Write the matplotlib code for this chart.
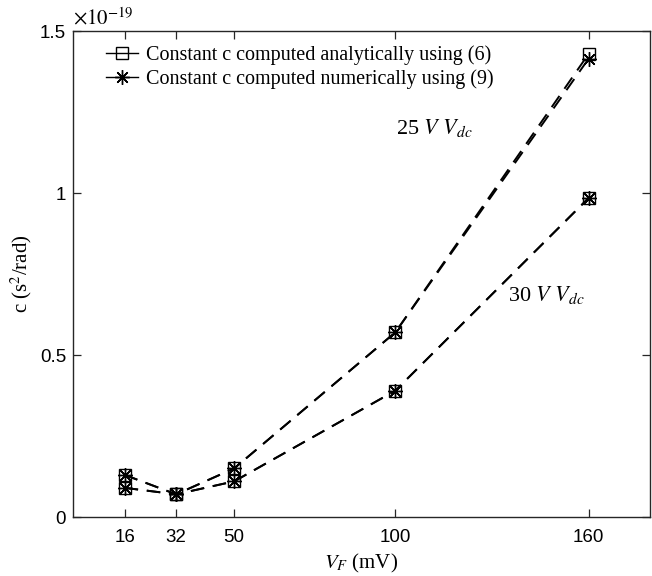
import numpy as np
import matplotlib.pyplot as plt

plt.rcParams['mathtext.fontset'] = 'stix'

# data (c in units of 1e-19 s^2/rad)
vf = [16, 32, 50, 100, 160]
c25_analytic = [0.13, 0.07, 0.15, 0.57, 1.43]
c25_numeric = [0.13, 0.07, 0.15, 0.57, 1.415]
c30_analytic = [0.09, 0.07, 0.11, 0.39, 0.985]
c30_numeric = [0.09, 0.07, 0.11, 0.39, 0.985]

yticks = [0, 0.5, 1, 1.5]
ytick_labels = ['0', '0.5', '1', '1.5']

serif = 'Liberation Serif'
sans = 'Liberation Sans'

fig = plt.figure(figsize=(6.52, 5.76), dpi=100)
ax = fig.add_axes([73 / 652, 1 - 517 / 576, (650 - 73) / 652, (517 - 31) / 576])

sq = dict(marker='s', ms=8, mfc='none', mec='black', mew=1.0)
star = dict(marker=(8, 2, 0), ms=10.5, mec='black', mew=1.0)
ls = dict(color='black', lw=1.4, linestyle=(0, (7, 4.5)))

ax.plot(vf, c25_analytic, **ls, **sq)
ax.plot(vf, c25_numeric, **ls, **star)
ax.plot(vf, c30_analytic, **ls, **sq)
ax.plot(vf, c30_numeric, **ls, **star)

# legend proxies (solid lines as in the original)
h1, = ax.plot([], [], color='black', lw=1.0, **sq)
h2, = ax.plot([], [], color='black', lw=1.0, **star)
ax.legend([h1, h2], ['Constant c computed analytically using (6)',
                     'Constant c computed numerically using (9)'],
          loc='upper left', frameon=False, prop={'family': serif, 'size': 14.5},
          handlelength=1.6, handletextpad=0.4, labelspacing=0.22,
          borderaxespad=0.3, bbox_to_anchor=(0.032, 1.0))

ax.text(112, 1.20, '25 $V$ $V_{dc}$', fontsize=16, family=serif, ha='center', va='center')
ax.text(147, 0.685, '30 $V$ $V_{dc}$', fontsize=16, family=serif, ha='center', va='center')

ax.set_xlim(0, 179)
ax.set_ylim(0, 1.5)
ax.set_xticks(vf)
ax.set_xticklabels([str(v) for v in vf], family=sans, fontsize=13.5)
ax.set_yticks(yticks)
ax.set_yticklabels(ytick_labels, family=sans, fontsize=13.5)
ax.tick_params(axis='x', pad=9)
ax.tick_params(direction='in', top=True, right=True, length=6, width=0.9,
               color='#262626')
ax.tick_params(axis='y', pad=5)
for s in ax.spines.values():
    s.set_color('#262626')
    s.set_linewidth(1.0)

ax.set_xlabel('$V_F$ (mV)', family=serif, fontsize=15, labelpad=4)
ax.set_ylabel('c (s$^2$/rad)', family=serif, fontsize=15, labelpad=4)
ax.text(0.0, 1.006, r'$\times10^{-19}$', transform=ax.transAxes, fontsize=15,
        family=sans, ha='left', va='bottom')

fig.savefig('out.png', dpi=100)
